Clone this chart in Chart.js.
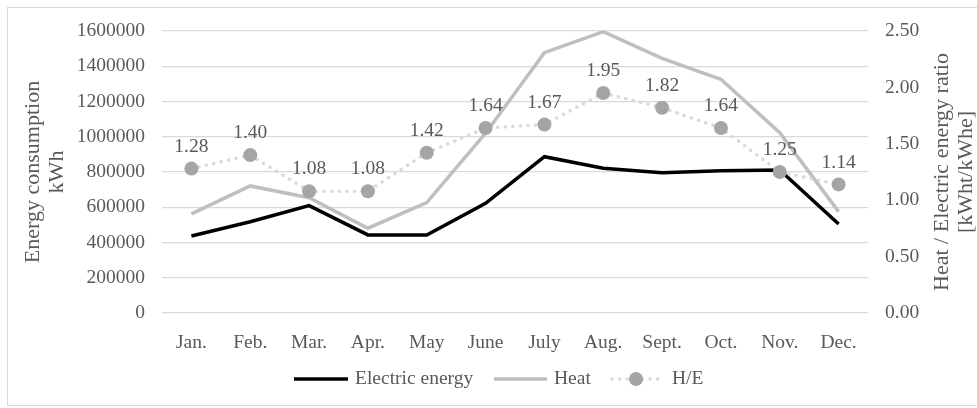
<!DOCTYPE html>
<html>
<head>
<meta charset="utf-8">
<script src="https://cdn.jsdelivr.net/npm/chart.js@4/dist/chart.umd.min.js"></script>
<style>
  html, body { margin: 0; padding: 0; background: #ffffff; }
  #wrap { width: 977px; height: 408px; position: relative; }
</style>
</head>
<body>
<div id="wrap"><canvas id="c" width="977" height="408"></canvas></div>
<script>
// Monthly energy consumption (kWh) and the heat / electric energy ratio
const months = ['Jan.', 'Feb.', 'Mar.', 'Apr.', 'May', 'June', 'July', 'Aug.', 'Sept.', 'Oct.', 'Nov.', 'Dec.'];
const electricEnergy = [437000, 518000, 609000, 443000, 443000, 622000, 887000, 821000, 796000, 807000, 811000, 505000];
const heat = [562000, 721000, 654000, 481000, 626000, 1020000, 1477000, 1596000, 1445000, 1326000, 1023000, 575000];
const heRatio = [1.28, 1.40, 1.08, 1.08, 1.42, 1.64, 1.67, 1.95, 1.82, 1.64, 1.25, 1.14];
const energyTicks = [0, 200000, 400000, 600000, 800000, 1000000, 1200000, 1400000, 1600000];
const ratioTicks = [0, 0.5, 1.0, 1.5, 2.0, 2.5];

const FONT = '"Liberation Serif", "Times New Roman", serif';
const TEXT = '#595959';
const FS = 19.5;
const TITLE_FS = 22;

// Frame, axis titles, ratio labels and legend
const decor = {
  id: 'decor',
  beforeDraw(chart) {
    const ctx = chart.ctx;
    ctx.save();
    ctx.fillStyle = '#ffffff';
    ctx.fillRect(0, 0, chart.width, chart.height);
    ctx.strokeStyle = '#d9d9d9';
    ctx.lineWidth = 1;
    ctx.strokeRect(7.5, 7.5, chart.width + 10, 398);
    ctx.restore();
  },
  afterDatasetsDraw(chart) {
    const ctx = chart.ctx;
    const area = chart.chartArea;
    const midY = (area.top + area.bottom) / 2;
    ctx.save();
    ctx.fillStyle = TEXT;
    ctx.textAlign = 'center';
    ctx.textBaseline = 'middle';

    // axis titles (two lines each, reading bottom to top)
    ctx.font = TITLE_FS + 'px ' + FONT;
    ctx.save();
    ctx.translate(33, midY);
    ctx.rotate(-Math.PI / 2);
    ctx.fillText('Energy consumption', 0, 0);
    ctx.fillText('kWh', 0, 24.5);
    ctx.restore();

    ctx.save();
    ctx.translate(942, midY);
    ctx.rotate(-Math.PI / 2);
    ctx.fillText('Heat / Electric energy ratio', 0, 0);
    ctx.fillText('[kWht/kWhe]', 0, 24.5);
    ctx.restore();

    // value labels above the ratio markers
    ctx.font = FS + 'px ' + FONT;
    const meta = chart.getDatasetMeta(2);
    meta.data.forEach((pt, i) => {
      ctx.fillText(heRatio[i].toFixed(2), pt.x, pt.y - 22);
    });

    // legend
    const ly = 379;
    const ds = chart.data.datasets;
    ctx.textAlign = 'left';
    ctx.lineCap = 'butt';
    // Electric energy
    ctx.strokeStyle = ds[0].borderColor;
    ctx.lineWidth = ds[0].borderWidth;
    ctx.beginPath(); ctx.moveTo(294, ly); ctx.lineTo(348, ly); ctx.stroke();
    ctx.fillText(ds[0].label, 355, ly);
    // Heat
    ctx.strokeStyle = ds[1].borderColor;
    ctx.lineWidth = ds[1].borderWidth;
    ctx.beginPath(); ctx.moveTo(494, ly); ctx.lineTo(547, ly); ctx.stroke();
    ctx.fillText(ds[1].label, 554, ly);
    // H/E
    ctx.strokeStyle = ds[2].borderColor;
    ctx.lineWidth = ds[2].borderWidth;
    ctx.lineCap = 'round';
    ctx.setLineDash(ds[2].borderDash);
    ctx.beginPath(); ctx.moveTo(612, ly); ctx.lineTo(659, ly); ctx.stroke();
    ctx.setLineDash([]);
    ctx.fillStyle = ds[2].pointBackgroundColor;
    ctx.beginPath(); ctx.arc(636, ly, ds[2].pointRadius, 0, Math.PI * 2); ctx.fill();
    ctx.fillStyle = TEXT;
    ctx.fillText(ds[2].label, 672, ly);
    ctx.restore();
  }
};

new Chart(document.getElementById('c'), {
  type: 'line',
  data: {
    labels: months,
    datasets: [
      {
        label: 'Electric energy',
        data: electricEnergy,
        yAxisID: 'y',
        borderColor: '#000000',
        borderWidth: 3.5,
        pointRadius: 0,
        tension: 0,
        order: 2
      },
      {
        label: 'Heat',
        data: heat,
        yAxisID: 'y',
        borderColor: '#bfbfbf',
        borderWidth: 3.5,
        pointRadius: 0,
        tension: 0,
        order: 3
      },
      {
        label: 'H/E',
        data: heRatio,
        yAxisID: 'y1',
        borderColor: '#d9d9d9',
        borderWidth: 3.5,
        borderDash: [0.1, 7.5],
        borderCapStyle: 'round',
        pointRadius: 7,
        pointBackgroundColor: '#a5a5a5',
        pointBorderWidth: 0,
        pointBorderColor: '#a5a5a5',
        tension: 0,
        order: 1
      }
    ]
  },
  options: {
    responsive: false,
    animation: false,
    events: [],
    layout: { padding: { top: 31, left: 0, right: 0, bottom: 0 } },
    plugins: {
      legend: { display: false },
      tooltip: { enabled: false }
    },
    scales: {
      x: {
        offset: true,
        grid: { display: false, drawTicks: false },
        border: { display: false },
        ticks: {
          color: TEXT,
          font: { family: FONT, size: FS },
          padding: 18,
          maxRotation: 0,
          autoSkip: false
        },
        afterFit(s) { s.height = 95; }
      },
      y: {
        position: 'left',
        min: 0,
        max: 1600000,
        grid: { color: '#d9d9d9', lineWidth: 1.3, drawTicks: false },
        border: { display: false },
        ticks: {
          stepSize: 100000,
          color: TEXT,
          font: { family: FONT, size: FS },
          padding: 17,
          callback(v) { return energyTicks.includes(v) ? String(v) : ''; }
        },
        afterFit(s) { s.width = 162; }
      },
      y1: {
        position: 'right',
        min: 0,
        max: 2.5,
        grid: { display: false, drawTicks: false },
        border: { display: false },
        ticks: {
          stepSize: 0.5,
          color: TEXT,
          font: { family: FONT, size: FS },
          padding: 17,
          callback(v) { return ratioTicks.includes(v) ? v.toFixed(2) : ''; }
        },
        afterFit(s) { s.width = 109; }
      }
    }
  },
  plugins: [decor]
});
</script>
</body>
</html>
